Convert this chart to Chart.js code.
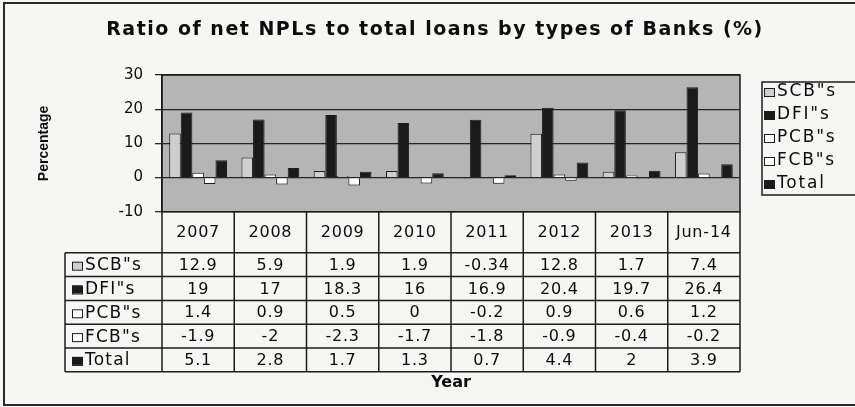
<!DOCTYPE html>
<html>
<head>
<meta charset="utf-8">
<script src="https://cdn.jsdelivr.net/npm/chart.js@4.4.1/dist/chart.umd.min.js"></script>
<style>
  html, body { margin: 0; padding: 0; background: #f6f6f4; }
  canvas { display: block; }
</style>
</head>
<body>
<canvas id="grafico" width="855" height="407"></canvas>
<script>
const titulo = 'Ratio of net NPLs to total loans by types of Banks (%)';
const years = ['2007', '2008', '2009', '2010', '2011', '2012', '2013', 'Jun-14'];
const scb = [12.9, 5.9, 1.9, 1.9, -0.34, 12.8, 1.7, 7.4];
const dfi = [19, 17, 18.3, 16, 16.9, 20.4, 19.7, 26.4];
const pcb = [1.4, 0.9, 0.5, 0, -0.2, 0.9, 0.6, 1.2];
const fcb = [-1.9, -2, -2.3, -1.7, -1.8, -0.9, -0.4, -0.2];
const total = [5.1, 2.8, 1.7, 1.3, 0.7, 4.4, 2, 3.9];
const yMin = -10, yMax = 30, yPaso = 10;

const linea = '#1c1c1c';
const fuente = 'DejaVu Sans';

function texto(ctx, str, x, y, font, align, espacio) {
  ctx.save();
  ctx.font = font;
  ctx.fillStyle = '#0c0c0c';
  ctx.textAlign = align;
  ctx.textBaseline = 'middle';
  ctx.letterSpacing = espacio + 'px';
  ctx.fillText(str, x, y);
  ctx.restore();
}

function muestra(ctx, ds, x, y) {
  ctx.fillStyle = ds.backgroundColor;
  ctx.strokeStyle = linea;
  ctx.lineWidth = 1;
  ctx.fillRect(x, y - 4, 10, 8);
  ctx.strokeRect(x + 0.5, y - 3.5, 10, 8);
}

// fondo gris del área, marco, título, leyenda y tabla de datos
const tablaPlugin = {
  id: 'tabla',
  beforeDraw(chart) {
    const {ctx, chartArea: a} = chart;
    ctx.save();
    ctx.fillStyle = '#b5b5b5';
    ctx.fillRect(a.left, a.top, a.right - a.left, a.bottom - a.top);
    ctx.restore();
  },
  afterDraw(chart) {
    const {ctx, chartArea: a} = chart;
    const x = chart.scales.x;
    const sets = chart.data.datasets;
    const paso = x.getPixelForValue(1) - x.getPixelForValue(0);
    const cab = 41, alto = 23.8, izq = 65;
    const y1 = a.bottom + cab;
    const yFin = y1 + alto * sets.length;

    ctx.save();
    // marco exterior
    ctx.strokeStyle = '#2a2a2a';
    ctx.lineWidth = 2;
    ctx.beginPath();
    ctx.moveTo(860, 3); ctx.lineTo(4, 3); ctx.lineTo(4, 405); ctx.lineTo(860, 405);
    ctx.stroke();

    // borde del área
    ctx.strokeStyle = linea;
    ctx.lineWidth = 1.5;
    ctx.strokeRect(a.left, a.top, a.right - a.left, a.bottom - a.top);

    // tabla
    ctx.beginPath();
    for (let i = 0; i <= years.length; i++) {
      const px = x.getPixelForValue(i) - paso / 2;
      ctx.moveTo(px, a.bottom); ctx.lineTo(px, yFin);
    }
    ctx.moveTo(izq, y1); ctx.lineTo(izq, yFin);
    for (let r = 0; r <= sets.length; r++) {
      ctx.moveTo(izq, y1 + alto * r); ctx.lineTo(a.right, y1 + alto * r);
    }
    ctx.stroke();

    years.forEach((yr, i) => {
      texto(ctx, yr, x.getPixelForValue(i), a.bottom + cab / 2 + 1, '16px ' + fuente, 'center', 0.8);
    });
    sets.forEach((ds, r) => {
      const cy = y1 + alto * r + alto / 2 + 1;
      muestra(ctx, ds, izq + 7, cy);
      texto(ctx, ds.label, izq + 20, cy, '17px ' + fuente, 'left', 1.2);
      ds.data.forEach((v, i) => {
        texto(ctx, String(v), x.getPixelForValue(i), cy, '16px ' + fuente, 'center', 0.8);
      });
    });

    // leyenda
    ctx.lineWidth = 1.5;
    ctx.strokeStyle = linea;
    ctx.strokeRect(762, 82, 100, 113);
    sets.forEach((ds, r) => {
      const cy = 92 + 23 * r;
      muestra(ctx, ds, 764, cy);
      texto(ctx, ds.label, 777, cy, '17px ' + fuente, 'left', 1.8);
    });

    // título
    texto(ctx, titulo, 435, 30, 'bold 19px ' + fuente, 'center', 1.5);
    ctx.restore();
  }
};

new Chart(document.getElementById('grafico'), {
  type: 'bar',
  data: {
    labels: years,
    datasets: [
      { label: 'SCB"s', data: scb, backgroundColor: '#cfcfcf' },
      { label: 'DFI"s', data: dfi, backgroundColor: '#1a1a1a' },
      { label: 'PCB"s', data: pcb, backgroundColor: '#ffffff' },
      { label: 'FCB"s', data: fcb, backgroundColor: '#ffffff' },
      { label: 'Total', data: total, backgroundColor: '#1a1a1a' }
    ]
  },
  options: {
    responsive: false,
    animation: false,
    devicePixelRatio: 1,
    layout: { padding: { top: 75, right: 115, bottom: 15, left: 0 } },
    datasets: {
      bar: { categoryPercentage: 0.8, barPercentage: 1, borderWidth: 1, borderColor: linea }
    },
    plugins: {
      legend: { display: false },
      title: { display: false },
      tooltip: { enabled: false }
    },
    scales: {
      x: {
        ticks: { display: false },
        grid: { display: false, drawTicks: false },
        border: { display: false },
        title: {
          display: true, text: 'Year', color: '#0c0c0c',
          font: { family: fuente, weight: 'bold', size: 16 },
          padding: { top: 161, bottom: 0 }
        }
      },
      y: {
        min: yMin, max: yMax,
        ticks: { stepSize: yPaso, color: '#0c0c0c', padding: 12, font: { family: fuente, size: 15 } },
        grid: { color: '#262626', lineWidth: 1.3, tickLength: 7 },
        border: { color: linea, width: 1.5 },
        title: {
          display: true, text: 'Percentage', color: '#0c0c0c',
          font: { family: 'Liberation Sans', weight: 'bold', size: 14 },
          padding: { top: 36, bottom: 0 }
        },
        afterFit(scale) { scale.width = 162; }
      }
    }
  },
  plugins: [tablaPlugin]
});
</script>
</body>
</html>
